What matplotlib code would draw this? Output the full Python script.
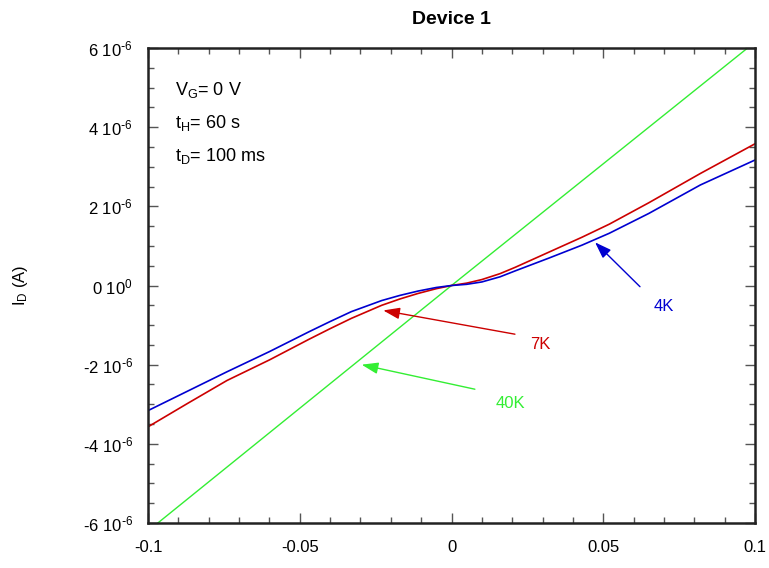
import numpy as np
import matplotlib
matplotlib.use("Agg")
import matplotlib.pyplot as plt
from matplotlib.ticker import MultipleLocator, FuncFormatter

plt.rcParams['font.family'] = ['Liberation Sans', 'DejaVu Sans']
plt.rcParams['mathtext.default'] = 'regular'
plt.rcParams['axes.unicode_minus'] = False

# данные (V_D в В, I_D в мкА)
v_4k = [-0.1, -0.087, -0.074, -0.06, -0.047, -0.04, -0.033, -0.023, -0.017,
        -0.011, -0.005, 0.0, 0.005, 0.01, 0.016, 0.021, 0.032, 0.043, 0.052,
        0.065, 0.082, 0.1]
i_4k = [-3.16, -2.67, -2.18, -1.67, -1.17, -0.91, -0.66, -0.38, -0.25,
        -0.14, -0.05, 0.0, 0.03, 0.09, 0.22, 0.37, 0.69, 1.02, 1.32,
        1.82, 2.54, 3.17]

v_7k = v_4k
i_7k = [-3.57, -2.98, -2.40, -1.88, -1.36, -1.09, -0.83, -0.50, -0.34,
        -0.20, -0.08, 0.0, 0.06, 0.15, 0.30, 0.46, 0.84, 1.22, 1.55,
        2.09, 2.83, 3.58]

v_40k = [-0.1, 0.0, 0.1]
i_40k = [-6.2, 0.0, 6.15]

labels = ['4K', '7K', '40K']
colors = ['#0000d0', '#cc0000', '#33ee33']
# (стрелка: остриё, хвост, подпись) в координатах данных
arrow_tip = [(0.0473, 1.09), (-0.0225, -0.63), (-0.0296, -2.00)]
arrow_tail = [(0.0621, -0.03), (0.0209, -1.23), (0.0077, -2.62)]
label_pos = [(0.0700, -0.54), (0.0292, -1.48), (0.0193, -2.97)]

info_lines = ['V$_G$= 0 V', 't$_H$= 60 s', 't$_D$= 100 ms']

fig = plt.figure(figsize=(7.69, 5.68), dpi=100)
ax = fig.add_axes([0.1925, 0.0792, 0.7893, 0.8363])

scale = 1e-6
ax.plot(v_40k, np.array(i_40k) * scale, color=colors[2], lw=1.0)
ax.plot(v_7k, np.array(i_7k) * scale, color=colors[1], lw=1.2)
ax.plot(v_4k, np.array(i_4k) * scale, color=colors[0], lw=1.2)

for lab, c, tip, tail, pos in zip(labels, colors, arrow_tip, arrow_tail, label_pos):
    ax.annotate('', xy=(tip[0], tip[1] * scale), xytext=(tail[0], tail[1] * scale),
                arrowprops=dict(arrowstyle='-|>,head_length=1.0,head_width=0.35',
                                color=c, lw=1.0, shrinkA=0, shrinkB=0))
    ax.text(pos[0], pos[1] * scale, lab, color=c, fontsize=12, ha='center', va='center')

for k, line in enumerate(info_lines):
    ax.text(0.045, 0.912 - k * 0.070, line, transform=ax.transAxes, fontsize=13,
            ha='left', va='center')

ax.set_xlim(-0.1, 0.1)
ax.set_ylim(-6e-6, 6e-6)
ax.xaxis.set_major_locator(MultipleLocator(0.05))
ax.xaxis.set_minor_locator(MultipleLocator(0.01))
ax.yaxis.set_major_locator(MultipleLocator(2e-6))
ax.yaxis.set_minor_locator(MultipleLocator(0.5e-6))


def fmt_x(v, pos):
    if abs(v) < 1e-9:
        return '0'
    return ('%g' % v)


def fmt_y(v, pos):
    m = round(v / 1e-6)
    if m == 0:
        return '0 10$^{0}$'
    return '%d 10$^{\\text{-}6}$' % m


ax.xaxis.set_major_formatter(FuncFormatter(fmt_x))
ax.yaxis.set_major_formatter(FuncFormatter(fmt_y))

ax.tick_params(which='both', direction='in', top=True, right=True, color='#555555')
ax.tick_params(which='major', length=7.5, width=1.0, labelsize=12)
ax.tick_params(axis='x', which='major', pad=12)
ax.tick_params(axis='y', which='major', pad=11)
ax.tick_params(which='minor', length=4, width=1.0)
for sp in ax.spines.values():
    sp.set_linewidth(1.8)
    sp.set_color('#222222')

ax.set_title('Device 1', fontsize=14, fontweight='bold', pad=17)
ax.set_ylabel('I$_D$ (A)', fontsize=12)
ax.yaxis.set_label_coords(-0.195, 0.5)

fig.savefig('out.png', dpi=100)
